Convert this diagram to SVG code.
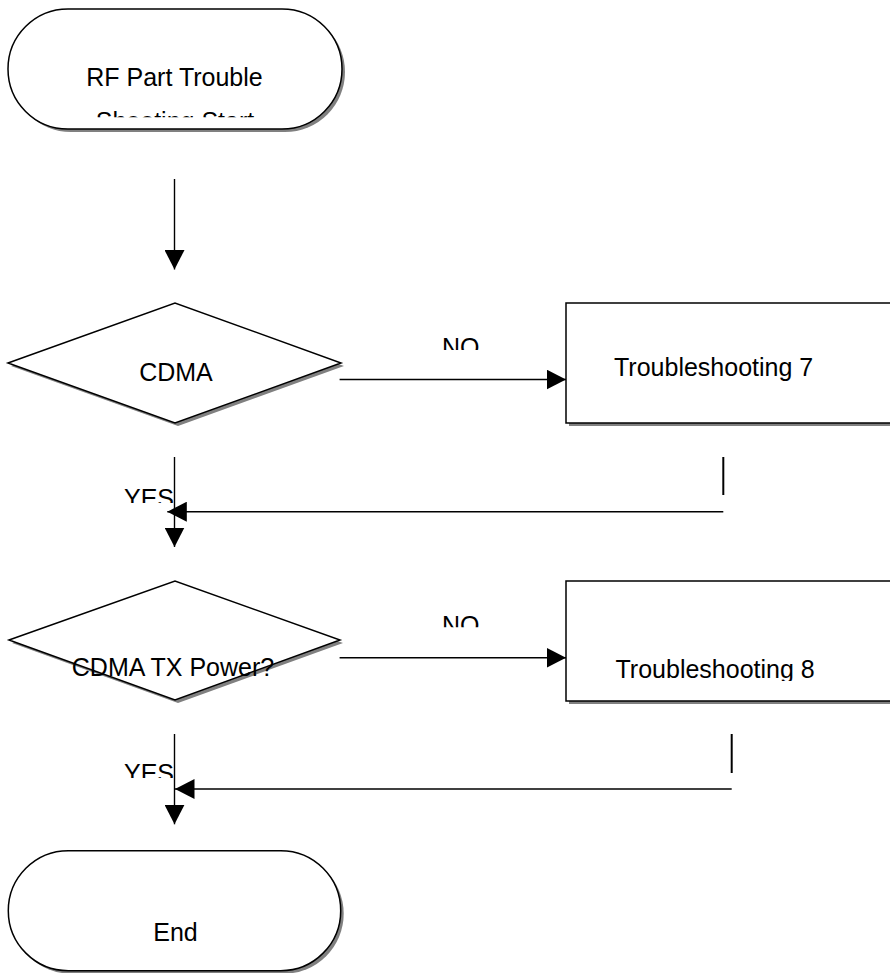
<svg xmlns="http://www.w3.org/2000/svg" width="890" height="973" viewBox="0 0 890 973">
  <style>
    .shape { fill: #ffffff; stroke: #000000; stroke-width: 1.5; }
    .shadow { fill: #808080; stroke: none; }
    .label { font-family: "Liberation Sans", Arial, sans-serif; font-size: 25px; fill: #000000; }
    .mid { text-anchor: middle; }
    .wire { fill: none; stroke: #000000; stroke-width: 1.4; }
    .tick { fill: none; stroke: #000000; stroke-width: 2; }
  </style>
  <defs>
    <marker id="head" markerUnits="userSpaceOnUse" markerWidth="20" markerHeight="20" refX="19.5" refY="10" orient="auto">
      <path d="M0,0 L19.5,10 L0,20 z" fill="#000000"/>
    </marker>
    <clipPath id="clipStart"><rect x="0" y="0" width="350" height="117.3"/></clipPath>
    <clipPath id="clipNo1"><rect x="400" y="320" width="120" height="30"/></clipPath>
    <clipPath id="clipNo2"><rect x="400" y="600" width="120" height="27.3"/></clipPath>
    <clipPath id="clipYes1"><rect x="100" y="470" width="100" height="33"/></clipPath>
    <clipPath id="clipYes2"><rect x="100" y="745" width="100" height="33"/></clipPath>
    <clipPath id="clipT8"><rect x="566" y="582" width="324" height="99"/></clipPath>
  </defs>

  <!-- start terminal -->
  <g id="start">
    <rect class="shadow" x="11" y="12" width="334" height="120" rx="60" ry="60"/>
    <rect class="shape" x="8" y="9" width="334" height="120" rx="60" ry="60"/>
    <g clip-path="url(#clipStart)">
      <text class="label mid" x="174.5" y="86">RF Part Trouble</text>
      <text class="label mid" x="175" y="130">Shooting Start</text>
    </g>
  </g>

  <!-- decision: CDMA -->
  <g id="cdma">
    <polygon class="shadow" points="11,366 178,306 344,366 178,426"/>
    <polygon class="shape" points="8,363 175,303 341,363 175,423"/>
    <text class="label mid" x="176" y="381">CDMA</text>
  </g>

  <!-- process: Troubleshooting 7 -->
  <g id="ts7">
    <rect class="shadow" x="569" y="306" width="330" height="120"/>
    <rect class="shape" x="566" y="303" width="330" height="120"/>
    <text class="label" x="614" y="376">Troubleshooting 7</text>
  </g>

  <!-- decision: CDMA TX Power? -->
  <g id="txpower">
    <polygon class="shadow" points="12,643 178,584 343,643 178,703"/>
    <polygon class="shape" points="9,640 175,581 340,640 175,700"/>
    <text class="label mid" x="173" y="676">CDMA TX Power?</text>
  </g>

  <!-- process: Troubleshooting 8 -->
  <g id="ts8">
    <rect class="shadow" x="569" y="584" width="330" height="120"/>
    <rect class="shape" x="566" y="581" width="330" height="120"/>
    <text class="label" x="615.5" y="678" clip-path="url(#clipT8)">Troubleshooting 8</text>
  </g>

  <!-- end terminal -->
  <g id="end">
    <rect class="shadow" x="11.3" y="853.7" width="332.4" height="120" rx="60" ry="60"/>
    <rect class="shape" x="8.3" y="850.7" width="332.4" height="120" rx="60" ry="60"/>
    <text class="label mid" x="175.5" y="941">End</text>
  </g>

  <!-- connectors -->
  <g id="connectors">
    <line class="wire" x1="174.5" y1="179" x2="174.5" y2="269.5" marker-end="url(#head)"/>

    <line class="wire" x1="339.6" y1="379.5" x2="566" y2="379.5" marker-end="url(#head)"/>
    <line class="wire" x1="174.5" y1="457" x2="174.5" y2="547" marker-end="url(#head)"/>
    <line class="tick" x1="723.3" y1="457" x2="723.3" y2="495"/>
    <line class="wire" x1="723.3" y1="511.7" x2="167.3" y2="511.7" marker-end="url(#head)"/>

    <line class="wire" x1="339.6" y1="657.8" x2="566" y2="657.8" marker-end="url(#head)"/>
    <line class="wire" x1="174.5" y1="734" x2="174.5" y2="824.3" marker-end="url(#head)"/>
    <line class="tick" x1="731.7" y1="734" x2="731.7" y2="773"/>
    <line class="wire" x1="731.7" y1="789" x2="175" y2="789" marker-end="url(#head)"/>

    <text class="label" x="442" y="355.5" clip-path="url(#clipNo1)">NO</text>
    <text class="label" x="442" y="634" clip-path="url(#clipNo2)">NO</text>
    <text class="label" x="124" y="506.5" clip-path="url(#clipYes1)">YES</text>
    <text class="label" x="124" y="781.5" clip-path="url(#clipYes2)">YES</text>
  </g>
</svg>
